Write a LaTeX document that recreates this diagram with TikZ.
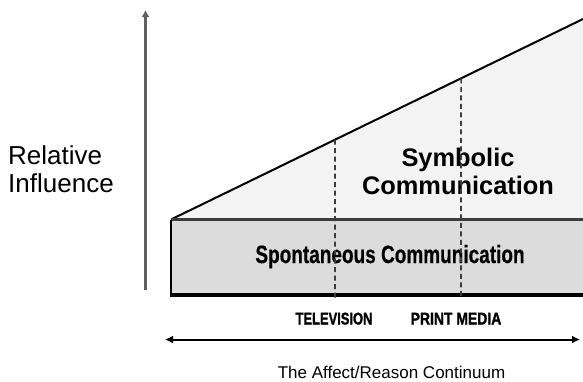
\documentclass[tikz,border=0pt]{standalone}
\usepackage{fontspec}
\setmainfont{Liberation Sans}
\newfontfamily\heavyfont[BoldFont={Liberation Sans Bold}, BoldFeatures={FakeBold=1.6}]{Liberation Sans}
\newfontfamily\semiheavyfont[BoldFont={Liberation Sans Bold}, BoldFeatures={FakeBold=0.6}]{Liberation Sans}
\usetikzlibrary{arrows.meta,calc}

\definecolor{bandfill}{RGB}{220,220,220}
\definecolor{wedgefill}{RGB}{243,243,243}
\definecolor{axisgray}{RGB}{95,95,95}
\definecolor{edgegray}{RGB}{60,60,60}

\tikzset{
  axisline/.style={draw=axisgray, line width=3.5pt, -{Latex[length=7pt,width=8pt]}},
  rangeline/.style={draw=black, line width=2pt, {Latex[length=8pt,width=8pt]}-{Latex[length=8pt,width=8pt]}},
  divider/.style={draw=edgegray, line width=1.6pt, dash pattern=on 5pt off 3.5pt},
  bigtext/.style={inner sep=0pt, align=left, font=\fontsize{26}{28}\selectfont},
  boldtext/.style={inner sep=0pt, align=center, font=\fontsize{25.4}{28}\selectfont\bfseries},
  bandtext/.style={inner sep=0pt, anchor=base, font=\fontsize{25}{28}\selectfont\semiheavyfont\bfseries},
  mediatext/.style={inner sep=0pt, anchor=base, font=\fontsize{17}{20}\selectfont\heavyfont\bfseries},
  captiontext/.style={inner sep=0pt, anchor=base, font=\fontsize{17}{20}\selectfont}
}

\begin{document}
\begin{tikzpicture}[x=1pt, y=-1pt]
  \clip (0,0) rectangle (583,381);

  % key points of the wedge and band
  \coordinate (wl) at (171,219.5);
  \coordinate (wr) at (583,19);
  \coordinate (br) at (590,219.5);
  \coordinate (bl) at (171,295);
  \coordinate (bb) at (590,295);

  % symbolic wedge
  \fill[wedgefill] (wl) -- (wr) -- (590,19) -- (br) -- cycle;
  \draw[black, line width=2pt] (wl) -- (wr);

  % spontaneous band
  \fill[bandfill] (wl) rectangle (bb);
  \draw[edgegray, line width=2.2pt] (wl) -- (br);
  \draw[black, line width=2pt] (wl) -- (bl);
  \draw[black, line width=3.5pt] ([xshift=-1pt]bl) -- (bb);

  % vertical axis
  \coordinate (ax0) at (145.5,290);
  \coordinate (ax1) at (145.5,10);
  \draw[axisline] (ax0) -- (ax1);

  % horizontal continuum axis
  \coordinate (h0) at (165,339.5);
  \coordinate (h1) at (580,339.5);
  \draw[rangeline] (h0) -- (h1);

  % labels
  \node[bigtext, anchor=west] (rel) at (8,169.5) {Relative\\Influence};
  \node[boldtext] (sym) at (458,171.8) {Symbolic\\Communication};
  \node[bandtext, xscale=0.76] (spon) at (390,263) {Spontaneous Communication};
  \node[mediatext, xscale=0.76] (tv) at (334,324.5) {TELEVISION};
  \node[mediatext, xscale=0.82] (pm) at (456,324.5) {PRINT MEDIA};
  \node[captiontext] (cap) at (391.5,378) {The Affect/Reason Continuum};

  % dividers from the wedge edge down past the band
  \coordinate (tvtop) at ($(wl)!0.398!(wr)$);
  \coordinate (pmtop) at ($(wl)!0.704!(wr)$);
  \coordinate (tvbot) at (335,298);
  \coordinate (pmbot) at (461,298);
  \draw[divider] (tvtop) -- (tvbot);
  \draw[divider] (pmtop) -- (pmbot);
\end{tikzpicture}
\end{document}
